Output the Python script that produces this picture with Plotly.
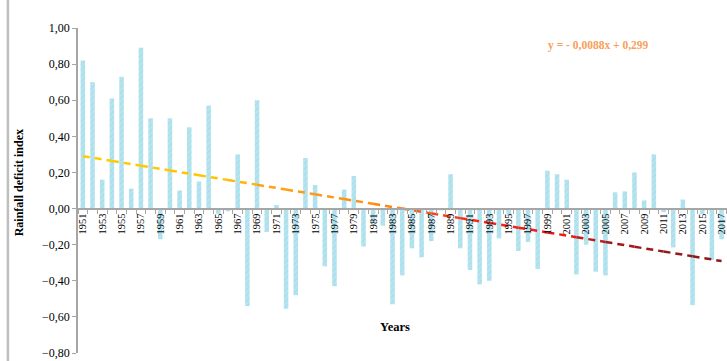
import plotly.graph_objects as go

# Rainfall deficit index per year
years = list(range(1951, 2018))
rdi = [
    0.82, 0.70, 0.16, 0.61, 0.73, 0.11, 0.89, 0.50, -0.17, 0.50,
    0.10, 0.45, 0.15, 0.57, -0.03, -0.015, 0.30, -0.54, 0.60, -0.13,
    0.02, -0.555, -0.48, 0.28, 0.13, -0.32, -0.43, 0.105, 0.18, -0.21,
    -0.08, -0.095, -0.53, -0.37, -0.22, -0.27, -0.18, -0.01, 0.19, -0.22,
    -0.34, -0.42, -0.40, -0.165, -0.04, -0.235, -0.185, -0.335, 0.21, 0.19,
    0.16, -0.365, -0.20, -0.35, -0.37, 0.09, 0.095, 0.20, 0.045, 0.30,
    -0.02, -0.215, 0.05, -0.535, -0.03, -0.285, -0.17,
]

# Linear trend y = slope * x + intercept, x = 1 for the first year
slope = -0.0088
intercept = 0.299
trend_label = "y = - 0,0088x + 0,299"

# Colour ramp along the trend line (start -> end)
trend_stops = [(0.0, (255, 205, 0)), (0.22, (255, 196, 0)), (0.30, (255, 160, 20)),
               (0.47, (255, 140, 20)), (0.53, (255, 85, 20)), (0.60, (255, 40, 25)),
               (0.76, (235, 25, 25)), (0.82, (165, 25, 25)), (1.0, (140, 24, 24))]

FONT = "Liberation Serif"
AXIS_GREY = "#a6a6a6"


def ramp(t):
    for (t0, c0), (t1, c1) in zip(trend_stops[:-1], trend_stops[1:]):
        if t0 <= t <= t1:
            f = (t - t0) / (t1 - t0)
            return "rgb({},{},{})".format(*[round(a + (b - a) * f) for a, b in zip(c0, c1)])
    return "rgb({},{},{})".format(*trend_stops[-1][1])


fig = go.Figure()

fig.add_trace(go.Bar(
    x=years, y=rdi, width=0.47,
    marker=dict(color="#b5e4ef", line=dict(width=0),
                pattern=dict(shape="/", fgcolor="#8fd2e2", bgcolor="#b5e4ef",
                             size=4, solidity=0.25)),
    showlegend=False, hoverinfo="x+y",
))

# Trend line, split into pieces so its colour shifts along the years
n = len(years)
pieces = 22
step = (n - 1) / pieces
for k in range(pieces):
    i0 = k * step
    i1 = (k + 1) * step
    xs = [years[0] + i0, years[0] + i1]
    ys = [slope * (i0 + 1) + intercept, slope * (i1 + 1) + intercept]
    fig.add_trace(go.Scatter(
        x=xs, y=ys, mode="lines",
        line=dict(color=ramp((k + 0.5) / pieces), width=2.5, dash="7px,5px"),
        showlegend=False, hoverinfo="skip",
    ))

y_min, y_max = -0.8, 1.0
zero_pos = (0 - y_min) / (y_max - y_min)

fig.update_layout(
    width=727, height=361,
    margin=dict(l=78, r=0, t=28, b=8),
    paper_bgcolor="white", plot_bgcolor="white",
    separators=", ",
    font=dict(family=FONT, size=12, color="#000000"),
    bargap=0.5,
    xaxis=dict(
        range=[1950.5, 2017.56],
        anchor="free", position=zero_pos,
        tickmode="array",
        tickvals=years[::2], ticktext=[str(y) for y in years[::2]],
        tickangle=-90, tickfont=dict(family=FONT, size=10.5, color="#000"),
        ticks="outside", ticklen=0, tickcolor=AXIS_GREY,
        minor=dict(tick0=1950.5, dtick=1, ticks="outside", ticklen=5,
                   tickcolor=AXIS_GREY, tickwidth=1),
        showline=True, linecolor=AXIS_GREY, linewidth=1.5,
        showgrid=False, zeroline=False,
    ),
    yaxis=dict(
        range=[y_min, y_max],
        tickmode="linear", tick0=-0.8, dtick=0.2, tickformat=".2f",
        tickfont=dict(family=FONT, size=12, color="#000"),
        ticks="outside", ticklen=4, tickcolor=AXIS_GREY,
        showline=True, linecolor=AXIS_GREY, linewidth=1.5,
        showgrid=False, zeroline=False,
    ),
    annotations=[
        dict(text="<b>Rainfall deficit index</b>", textangle=-90,
             xref="paper", yref="paper", x=-0.091, y=0.525,
             xanchor="center", yanchor="middle",
             showarrow=False, font=dict(family=FONT, size=12, color="#000")),
        dict(text="<b>Years</b>", xref="paper", yref="paper", x=0.4877, y=0.079,
             xanchor="center", yanchor="middle",
             showarrow=False, font=dict(family=FONT, size=12.5, color="#000")),
        dict(text="<b>" + trend_label + "</b>", xref="paper", yref="paper",
             x=0.802, y=0.947, xanchor="center", yanchor="middle", showarrow=False,
             font=dict(family=FONT, size=11.5, color="#f7a05a")),
    ],
    shapes=[
        dict(type="line", xref="paper", yref="paper",
             x0=-0.108, x1=-0.108, y0=-0.05, y1=1.1,
             line=dict(color="#bfbfbf", width=2.5)),
    ],
)

fig.write_html("out.html")
